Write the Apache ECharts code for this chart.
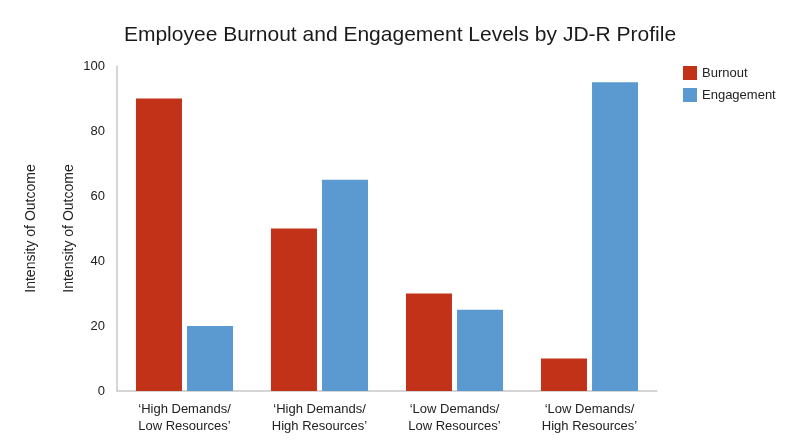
<!DOCTYPE html>
<html><head><meta charset="utf-8">
<script src="https://cdn.jsdelivr.net/npm/echarts@6/dist/echarts.min.js"></script>
<style>html,body{margin:0;padding:0;background:#fff}#c{width:800px;height:447px}</style>
</head><body><div id="c"></div>
<script>
const categories = ["‘High Demands/\nLow Resources’", "‘High Demands/\nHigh Resources’", "‘Low Demands/\nLow Resources’", "‘Low Demands/\nHigh Resources’"];
const burnout = [90, 50, 30, 10];
const engagement = [20, 65, 25, 95];
const yTicks = {min: 0, max: 100, interval: 20};
const chart = echarts.init(document.getElementById('c'));
const font = 'Helvetica, Arial, "Liberation Sans", sans-serif';
chart.setOption({
  backgroundColor: '#fff',
  textStyle: {fontFamily: font},
  title: {text: 'Employee Burnout and Engagement Levels by JD-R Profile', left: 'center', top: 20,
    textStyle: {fontSize: 21, fontWeight: 'normal', color: '#1a1a1a', fontFamily: font}},
  legend: {orient: 'vertical', left: 678, top: 61, itemWidth: 14, itemHeight: 14, itemGap: 8,
    icon: 'rect', textStyle: {fontSize: 13, color: '#222'}, data: ['Burnout', 'Engagement']},
  grid: {left: 117, right: 143, top: 66, bottom: 56},
  xAxis: {type: 'category', data: categories,
    axisLine: {lineStyle: {color: '#c8c8c8', width: 1.5}}, axisTick: {show: false},
    axisLabel: {fontSize: 13, color: '#222', lineHeight: 17, margin: 10, interval: 0}},
  yAxis: [
    {type: 'value', min: yTicks.min, max: yTicks.max, interval: yTicks.interval,
      name: 'Intensity of Outcome', nameLocation: 'middle', nameGap: 79, nameRotate: 90,
      nameTextStyle: {fontSize: 14, color: '#222'},
      axisLine: {show: true, lineStyle: {color: '#c8c8c8', width: 1.5}}, axisTick: {show: false},
      splitLine: {show: false}, axisLabel: {fontSize: 13, color: '#222', margin: 12}},
    {type: 'value', position: 'left', min: yTicks.min, max: yTicks.max, interval: yTicks.interval,
      name: 'Intensity of Outcome', nameLocation: 'middle', nameGap: 41, nameRotate: 90,
      nameTextStyle: {fontSize: 14, color: '#222'},
      axisLine: {show: false}, axisTick: {show: false}, splitLine: {show: false}, axisLabel: {show: false}}
  ],
  series: [
    {name: 'Burnout', type: 'bar', data: burnout, barWidth: 46, barGap: '11%',
      itemStyle: {color: '#C13219'}},
    {name: 'Engagement', type: 'bar', data: engagement, barWidth: 46,
      itemStyle: {color: '#5B99D1'}}
  ]
});
</script></body></html>
